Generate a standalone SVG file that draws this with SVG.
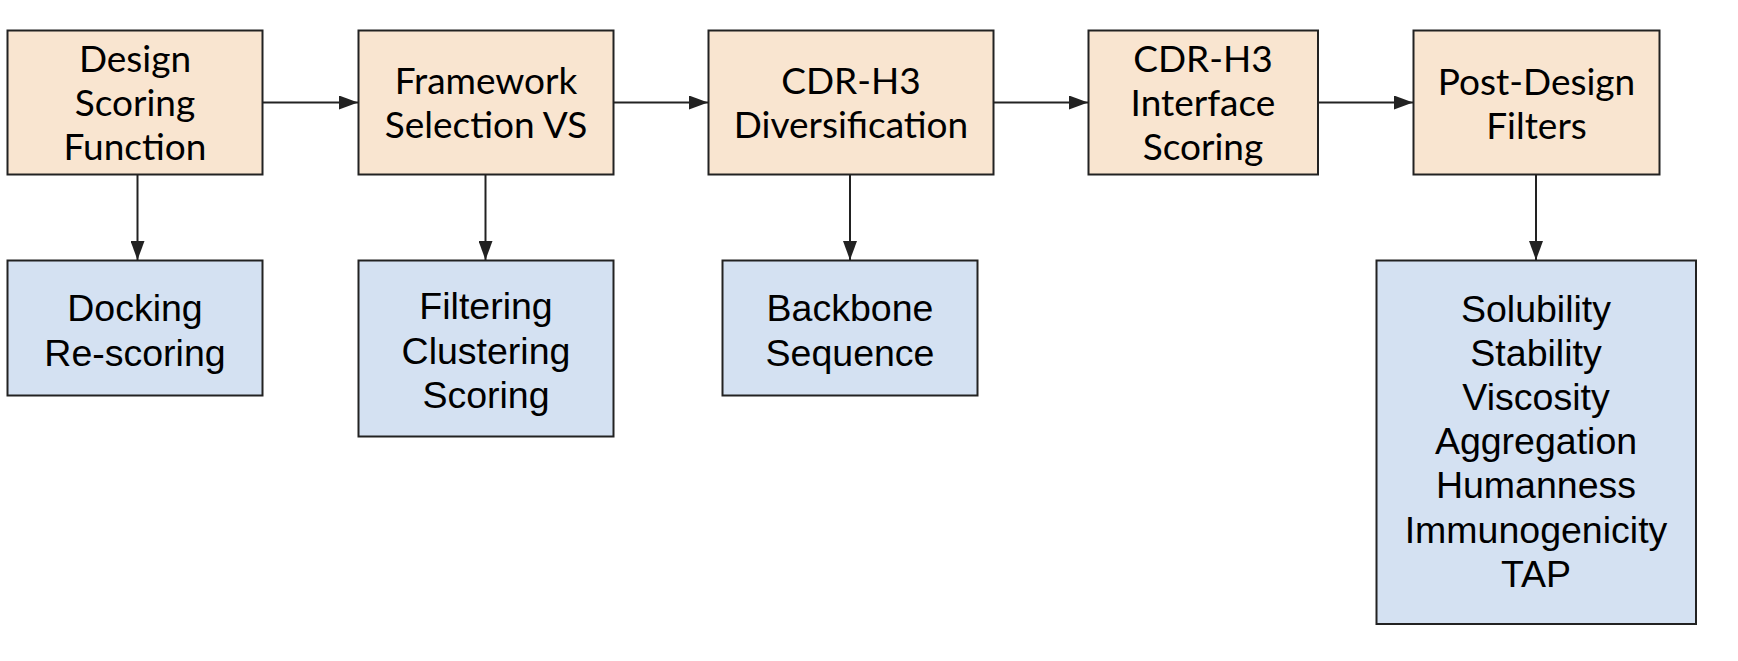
<svg xmlns="http://www.w3.org/2000/svg" width="1738" height="661" viewBox="0 0 1738 661">
<style>
.top{fill:#f9e5d0;stroke:#222;stroke-width:2}
.bot{fill:#d4e1f2;stroke:#222;stroke-width:2}
.tl{font-family:Lato,"Liberation Sans",sans-serif;font-size:37px;fill:#000;text-anchor:middle}
.bl{font-family:"Liberation Sans",Arial,sans-serif;font-size:37.5px;fill:#000;text-anchor:middle}
.conn{stroke:#222;stroke-width:2;fill:none}
</style>
<defs>
<marker id="ah" markerWidth="19" markerHeight="14" refX="19" refY="7" orient="auto" markerUnits="userSpaceOnUse">
<path d="M0,0 L19,7 L0,14 z" fill="#222"/>
</marker>
</defs>
<rect width="1738" height="661" fill="#fff"/>
<g id="connectors">
<line class="conn" x1="263" y1="102.5" x2="358" y2="102.5" marker-end="url(#ah)"/>
<line class="conn" x1="614" y1="102.5" x2="708" y2="102.5" marker-end="url(#ah)"/>
<line class="conn" x1="994" y1="102.5" x2="1088" y2="102.5" marker-end="url(#ah)"/>
<line class="conn" x1="1318" y1="102.5" x2="1413" y2="102.5" marker-end="url(#ah)"/>
<line class="conn" x1="137.5" y1="175" x2="137.5" y2="260" marker-end="url(#ah)"/>
<line class="conn" x1="485.5" y1="175" x2="485.5" y2="260" marker-end="url(#ah)"/>
<line class="conn" x1="850" y1="175" x2="850" y2="260" marker-end="url(#ah)"/>
<line class="conn" x1="1536" y1="175" x2="1536" y2="260" marker-end="url(#ah)"/>
</g>
<g id="design-scoring">
<rect class="top" x="7.5" y="30.5" width="255" height="144"/>
<text class="tl" x="135" y="71.5">Design</text>
<text class="tl" x="135" y="116">Scoring</text>
<text class="tl" x="135" y="160">Function</text>
</g>
<g id="framework-selection">
<rect class="top" x="358.5" y="30.5" width="255" height="144"/>
<text class="tl" x="486" y="93.5">Framework</text>
<text class="tl" x="486" y="138">Selection VS</text>
</g>
<g id="cdr-diversification">
<rect class="top" x="708.5" y="30.5" width="285" height="144"/>
<text class="tl" x="851" y="93.5">CDR-H3</text>
<text class="tl" x="851" y="138">Diversification</text>
</g>
<g id="cdr-interface">
<rect class="top" x="1088.5" y="30.5" width="229.5" height="144"/>
<text class="tl" x="1203" y="71.5">CDR-H3</text>
<text class="tl" x="1203" y="116">Interface</text>
<text class="tl" x="1203" y="160">Scoring</text>
</g>
<g id="post-design">
<rect class="top" x="1413.5" y="30.5" width="246" height="144"/>
<text class="tl" x="1536.5" y="94.5">Post-Design</text>
<text class="tl" x="1536.5" y="138.5">Filters</text>
</g>
<g id="docking">
<rect class="bot" x="7.5" y="260.5" width="255" height="135"/>
<text class="bl" x="135" y="321">Docking</text>
<text class="bl" x="135" y="365.5">Re-scoring</text>
</g>
<g id="filtering">
<rect class="bot" x="358.5" y="260.5" width="255" height="176"/>
<text class="bl" x="486" y="319">Filtering</text>
<text class="bl" x="486" y="363.5">Clustering</text>
<text class="bl" x="486" y="408">Scoring</text>
</g>
<g id="backbone">
<rect class="bot" x="722.5" y="260.5" width="255" height="135"/>
<text class="bl" x="850" y="321">Backbone</text>
<text class="bl" x="850" y="365.5">Sequence</text>
</g>
<g id="filters-list">
<rect class="bot" x="1376.5" y="260.5" width="319.5" height="363.5"/>
<text class="bl" x="1536" y="321.5">Solubility</text>
<text class="bl" x="1536" y="365.7">Stability</text>
<text class="bl" x="1536" y="409.9">Viscosity</text>
<text class="bl" x="1536" y="454.1">Aggregation</text>
<text class="bl" x="1536" y="498.3">Humanness</text>
<text class="bl" x="1536" y="542.5">Immunogenicity</text>
<text class="bl" x="1536" y="586.7">TAP</text>
</g>
</svg>
